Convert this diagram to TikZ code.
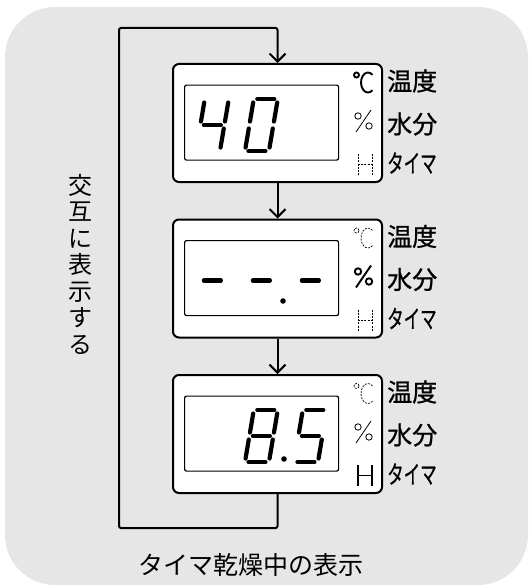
\documentclass[tikz,border=0pt]{standalone}
\usepackage{fontspec}
\newfontfamily\jp{Noto Sans CJK JP}
\newfontfamily\jpm[FakeBold=0.8]{Noto Sans CJK JP}
\usetikzlibrary{arrows.meta,calc}
\definecolor{bg}{RGB}{230,230,230}
\newcommand\segA{\draw[seg] (3.5,0)--(20.5,0);}
\newcommand\segB{\draw[seg] (24,3.5)--(24,22.5);}
\newcommand\segC{\draw[seg] (24,29.5)--(24,48.5);}
\newcommand\segD{\draw[seg] (3.5,52)--(20.5,52);}
\newcommand\segE{\draw[seg] (0,29.5)--(0,48.5);}
\newcommand\segF{\draw[seg] (0,3.5)--(0,22.5);}
\newcommand\segG{\draw[seg] (3.5,26)--(20.5,26);}
\newcommand\digitat[3]{\begin{scope}[shift={(#1,#2)},xslant=0.17]#3\end{scope}}
\newcommand\degC[2]{%
  \draw[#2] (356.5,#1+12) circle (2.5pt);
  \draw[#2] ({368+7*cos(50)},{#1+19.5-10*sin(50)}) arc[start angle=50,end angle=310,x radius=7pt,y radius=10pt];}
\newcommand\pct[2]{%
  \draw[#2] (358,#1+53) circle (3.2pt);
  \draw[#2] (369,#1+63) circle (3.2pt);
  \draw[#2] (371,#1+47)--(356,#1+69);}
\newcommand\hh[2]{%
  \draw[#2] (358,#1+91)--(358,#1+112) (372,#1+91)--(372,#1+112) (358,#1+101.5)--(372,#1+101.5);}
\begin{document}
\begin{tikzpicture}[x=1pt,y=-1pt,
  panel/.style={draw, line width=2pt, fill=white, rounded corners=6pt, minimum width=209pt, minimum height=118pt, inner sep=0pt, anchor=north west},
  screen/.style={draw, line width=1.2pt, rounded corners=2pt, minimum width=154pt, minimum height=75pt, inner sep=0pt, anchor=north west},
  flow/.style={line width=2pt, -{Straight Barb[length=8pt,width=16pt]}},
  seg/.style={line width=4.2pt, line cap=round},
  lbl/.style={font=\jpm\fontsize{25}{25}\selectfont, anchor=west, inner sep=0pt},
  act/.style={line width=1.9pt},
  ina/.style={line width=0.7pt, dash pattern=on 2pt off 1.2pt},
  inap/.style={line width=0.8pt}]
\useasboundingbox (0,0) rectangle (529,586);
\fill[bg, rounded corners=50pt] (5,7) rectangle (528,585);

% panels
\node[panel] (p1) at (172,63) {};
\node[panel] (p2) at (172,218.5) {};
\node[panel] (p3) at (172,374) {};
\node[screen] (s1) at (184,84.5) {};
\node[screen] (s2) at (184,240) {};
\node[screen] (s3) at (184,395.5) {};

% digits panel 1: 40
\digitat{204.8}{99}{\segB\segC\segF\segG}
\digitat{253.8}{99}{\segA\segB\segC\segD\segE\segF}
% panel 2: - -.-
\digitat{204.8}{254.5}{\segG}
\digitat{253.8}{254.5}{\segG}
\digitat{302.8}{254.5}{\segG}
\fill (283,301) circle (2.8pt);
% panel 3: 8.5
\digitat{253.8}{410}{\segA\segB\segC\segD\segE\segF\segG}
\fill (284,459) circle (2.8pt);
\digitat{302.8}{410}{\segA\segC\segD\segF\segG}

% symbols
\degC{63}{act} \pct{63}{inap} \hh{63}{ina}
\degC{218.5}{ina} \pct{218.5}{act} \hh{218.5}{ina}
\degC{374}{ina} \pct{374}{inap} \hh{374}{act}

% labels
\foreach \t/\n in {63/1,218.5/2,374/3}{
  \node[lbl] (ta\n) at (387,\t+18) {温度};
  \node[lbl] (tb\n) at (387,\t+61) {水分};
  \node[lbl] (tc\n) at (387,\t+100) {\scalebox{0.66}[1]{タイマ}};
}

% connectors
\coordinate (lt) at (119,28);
\coordinate (lb) at (119,528);
\draw[flow] (p1.south) -- (p2.north);
\draw[flow] (p2.south) -- (p3.north);
\draw[flow, rounded corners=2pt] (p3.south) |- (lb) -- (lt) -| (p1.north);

\node[font=\jp\fontsize{24}{26.5}\selectfont, align=center, inner sep=0pt] (vt) at (80,264) {交\\互\\に\\表\\示\\す\\る};
\node[font=\jp\fontsize{25}{25}\selectfont, inner sep=0pt] (cap) at (251,565) {タイマ乾燥中の表示};
\end{tikzpicture}
\end{document}
